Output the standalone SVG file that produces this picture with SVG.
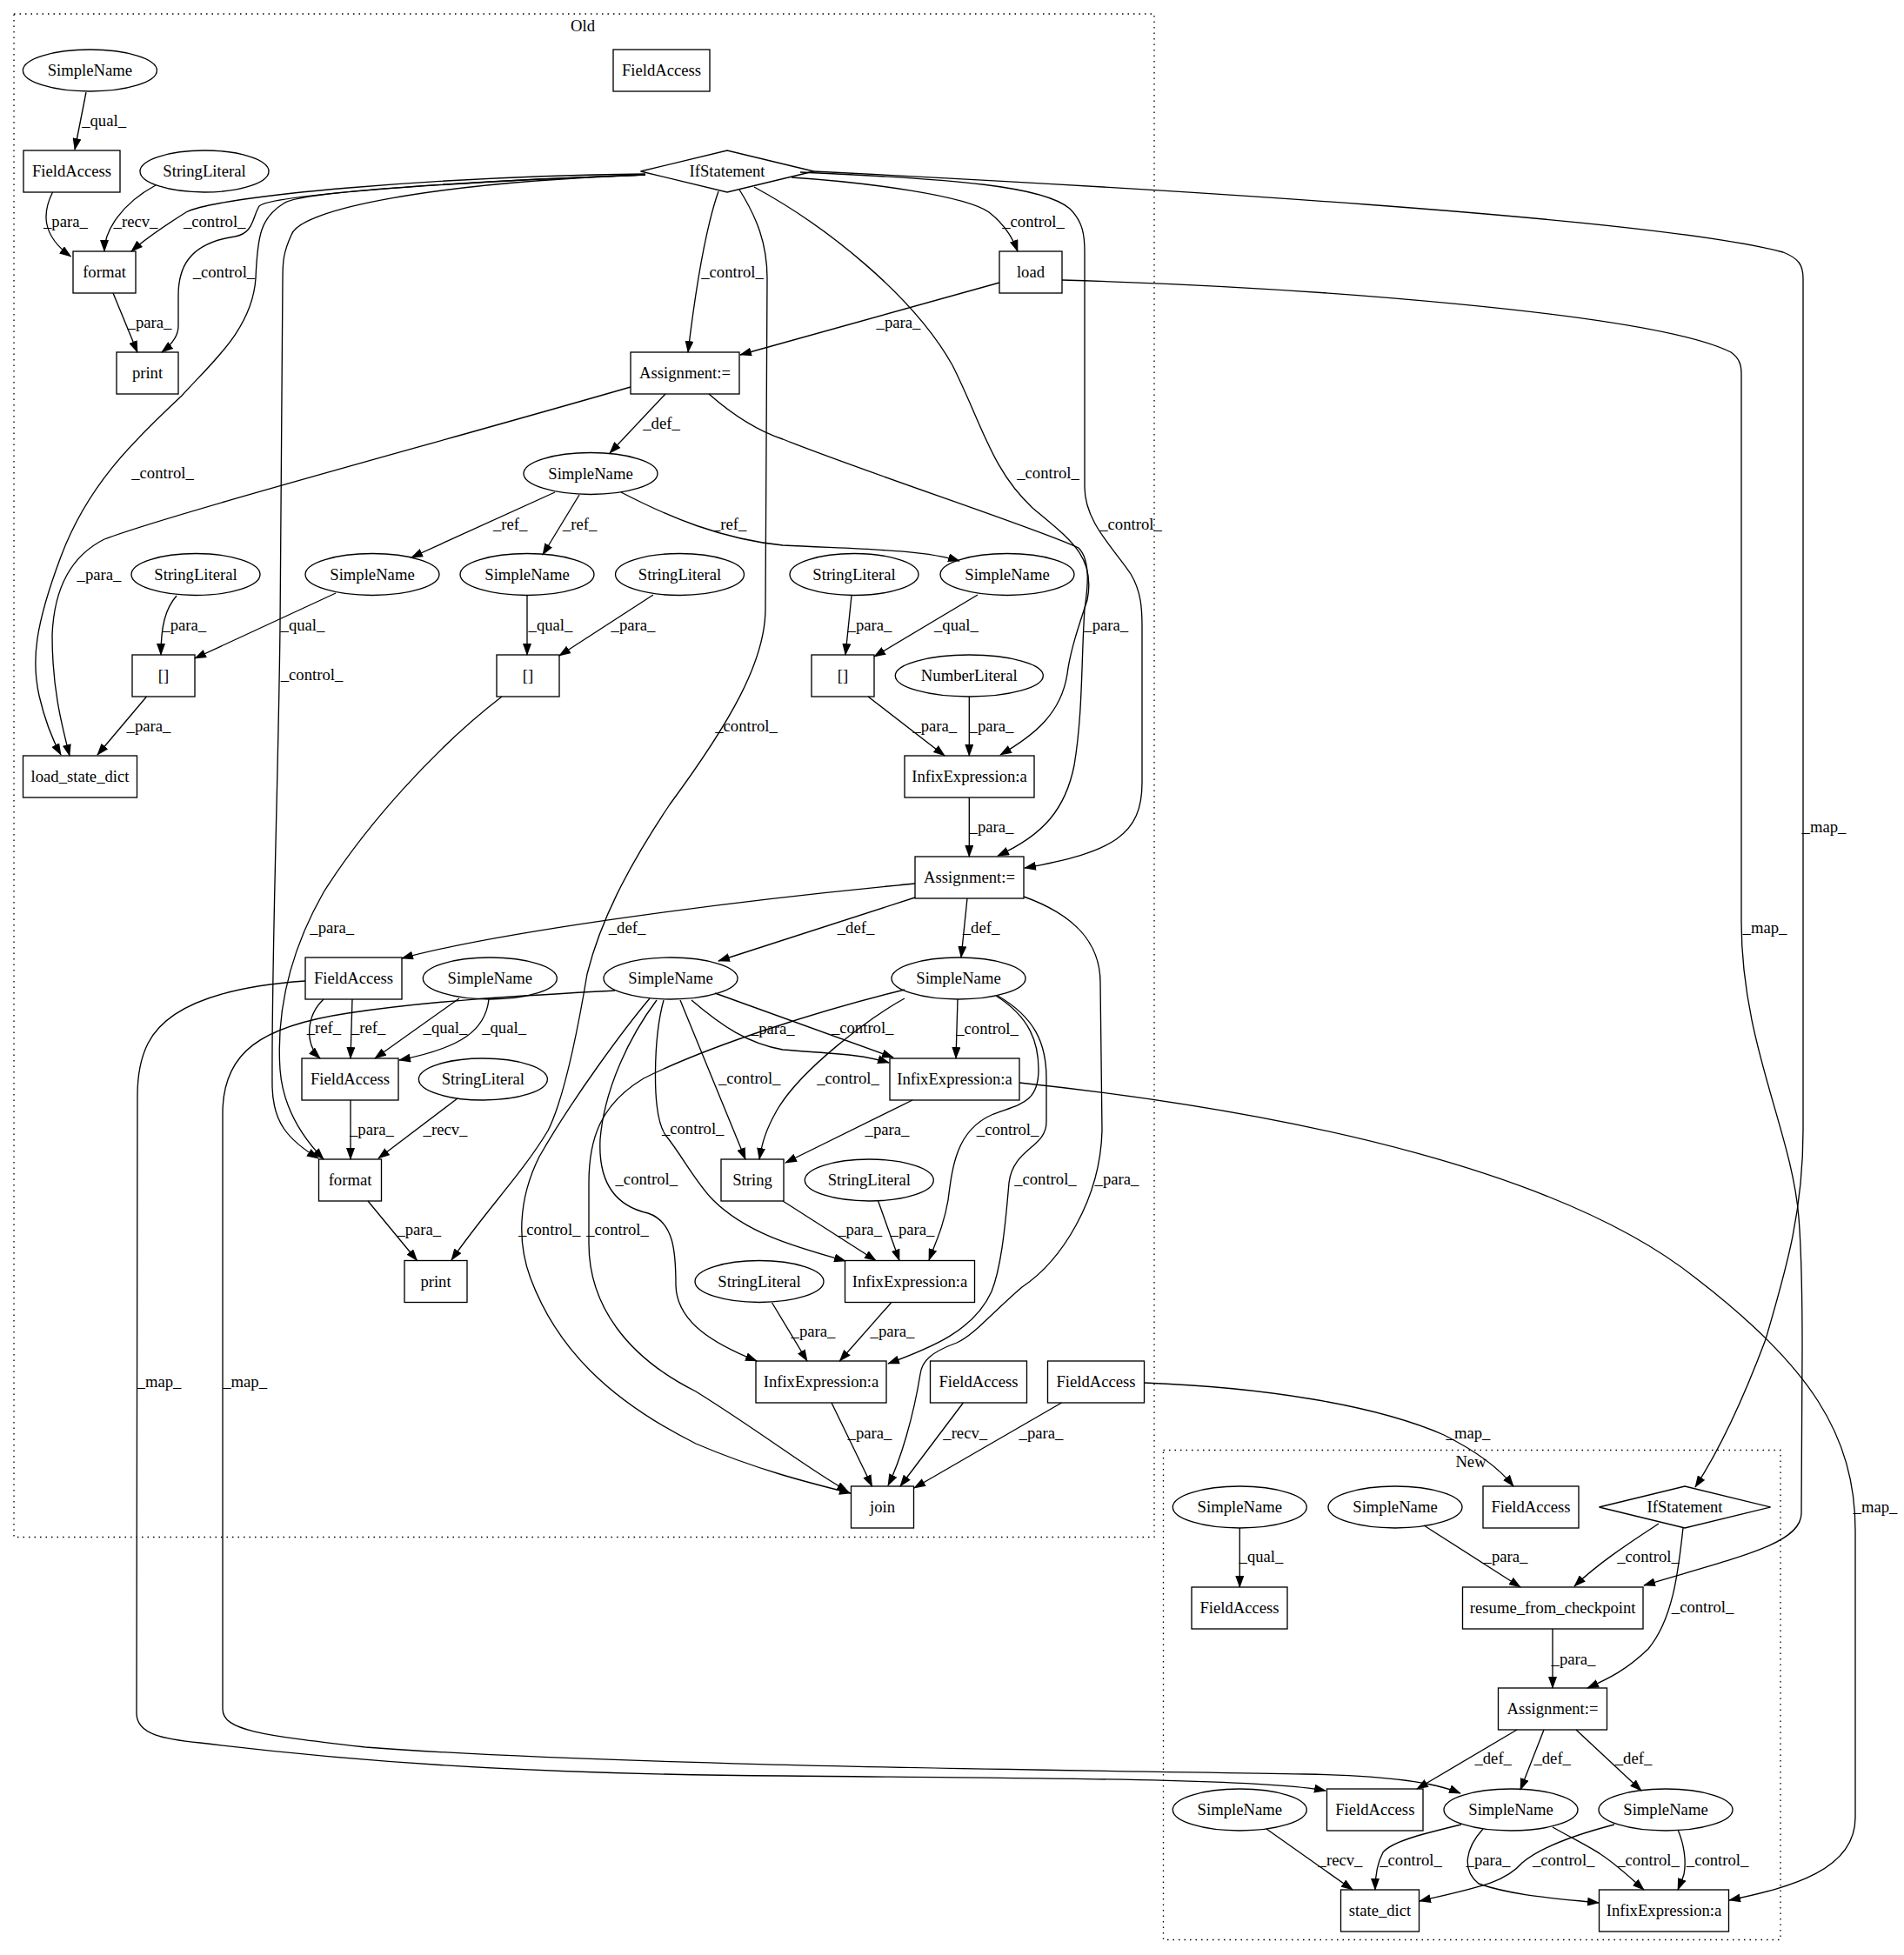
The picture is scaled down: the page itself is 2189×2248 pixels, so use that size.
<svg xmlns="http://www.w3.org/2000/svg" width="2189" height="2248" viewBox="0 0 2189 2248">
<style>
text{font-family:"Liberation Serif","Times New Roman",serif;font-size:18.67px;fill:#000;text-anchor:middle}
.n rect,.n ellipse,.n polygon{fill:none;stroke:#000;stroke-width:1.33}
.e path{fill:none;stroke:#000;stroke-width:1.33;marker-end:url(#a)}
.c{fill:none;stroke:#000;stroke-width:1.33;stroke-dasharray:1.5,5}
</style>
<defs>
<marker id="a" viewBox="0 0 14 10" refX="13" refY="5" markerWidth="14" markerHeight="10" markerUnits="userSpaceOnUse" orient="auto"><path d="M0,0 L14,5 L0,10 z" fill="#000"/></marker>
</defs>
<rect width="2189" height="2248" fill="#fff"/>
<g id="cluster_old"><rect class="c" x="16" y="16" width="1311" height="1751.5"/><text x="670" y="36">Old</text></g>
<g id="cluster_new"><rect class="c" x="1337.5" y="1667.5" width="709.5" height="563"/><text x="1691" y="1687">New</text></g>

<g class="n">
<g id="o_sn0"><ellipse cx="103.4" cy="81" rx="77" ry="24"/><text x="103.4" y="87">SimpleName</text></g>
<g id="o_fa0"><rect x="27" y="173" width="111" height="48"/><text x="82.5" y="203">FieldAccess</text></g>
<g id="o_sl0"><ellipse cx="235" cy="197" rx="74" ry="24"/><text x="235" y="203">StringLiteral</text></g>
<g id="o_fatop"><rect x="705" y="57" width="111" height="48"/><text x="760.5" y="87">FieldAccess</text></g>
<g id="o_if"><polygon points="736.5,197 836,173 935.5,197 836,221"/><text x="836" y="203">IfStatement</text></g>
<g id="o_fmt0"><rect x="84" y="289" width="72" height="48"/><text x="120" y="319">format</text></g>
<g id="o_load"><rect x="1149" y="289" width="72" height="48"/><text x="1185" y="319">load</text></g>
<g id="o_print0"><rect x="134" y="405" width="71" height="48"/><text x="169.5" y="435">print</text></g>
<g id="o_asg0"><rect x="725" y="405" width="125" height="48"/><text x="787.5" y="435">Assignment:=</text></g>
<g id="o_sn1"><ellipse cx="679" cy="544.5" rx="77" ry="24"/><text x="679" y="550.5">SimpleName</text></g>
<g id="o_sl1"><ellipse cx="225" cy="660.5" rx="74" ry="24"/><text x="225" y="666.5">StringLiteral</text></g>
<g id="o_sn2"><ellipse cx="428" cy="660.5" rx="77" ry="24"/><text x="428" y="666.5">SimpleName</text></g>
<g id="o_sn3"><ellipse cx="606" cy="660.5" rx="77" ry="24"/><text x="606" y="666.5">SimpleName</text></g>
<g id="o_sl2"><ellipse cx="781.5" cy="660.5" rx="74" ry="24"/><text x="781.5" y="666.5">StringLiteral</text></g>
<g id="o_sl3"><ellipse cx="982" cy="660.5" rx="74" ry="24"/><text x="982" y="666.5">StringLiteral</text></g>
<g id="o_sn4"><ellipse cx="1158" cy="660.5" rx="77" ry="24"/><text x="1158" y="666.5">SimpleName</text></g>
<g id="o_br1"><rect x="152" y="753" width="72" height="48"/><text x="188" y="783">[]</text></g>
<g id="o_br2"><rect x="571" y="753" width="72" height="48"/><text x="607" y="783">[]</text></g>
<g id="o_br3"><rect x="933" y="753" width="72" height="48"/><text x="969" y="783">[]</text></g>
<g id="o_num"><ellipse cx="1114.3" cy="777" rx="85" ry="24"/><text x="1114.3" y="783">NumberLiteral</text></g>
<g id="o_lsd"><rect x="26.5" y="869" width="131" height="48"/><text x="92" y="899">load_state_dict</text></g>
<g id="o_inf0"><rect x="1040" y="869" width="149" height="48"/><text x="1114.5" y="899">InfixExpression:a</text></g>
<g id="o_asg1"><rect x="1052" y="985" width="125" height="48"/><text x="1114.5" y="1015">Assignment:=</text></g>
<g id="o_fa1"><rect x="351" y="1101" width="111" height="48"/><text x="406.5" y="1131">FieldAccess</text></g>
<g id="o_sn5"><ellipse cx="563.3" cy="1125" rx="77" ry="24"/><text x="563.3" y="1131">SimpleName</text></g>
<g id="o_sn6"><ellipse cx="771" cy="1125" rx="77" ry="24"/><text x="771" y="1131">SimpleName</text></g>
<g id="o_sn7"><ellipse cx="1102" cy="1125" rx="77" ry="24"/><text x="1102" y="1131">SimpleName</text></g>
<g id="o_fa2"><rect x="347" y="1217" width="111" height="48"/><text x="402.5" y="1247">FieldAccess</text></g>
<g id="o_sl4"><ellipse cx="555.4" cy="1241" rx="74" ry="24"/><text x="555.4" y="1247">StringLiteral</text></g>
<g id="o_inf1"><rect x="1023" y="1217" width="149" height="48"/><text x="1097.5" y="1247">InfixExpression:a</text></g>
<g id="o_fmt1"><rect x="366.5" y="1333" width="72" height="48"/><text x="402.5" y="1363">format</text></g>
<g id="o_string"><rect x="829" y="1333" width="72" height="48"/><text x="865" y="1363">String</text></g>
<g id="o_sl5"><ellipse cx="999.3" cy="1357" rx="74" ry="24"/><text x="999.3" y="1363">StringLiteral</text></g>
<g id="o_print1"><rect x="465" y="1449.5" width="72" height="48"/><text x="501" y="1479.5">print</text></g>
<g id="o_inf2"><rect x="971.5" y="1449.5" width="149" height="48"/><text x="1046" y="1479.5">InfixExpression:a</text></g>
<g id="o_sl6"><ellipse cx="873" cy="1473.5" rx="74" ry="24"/><text x="873" y="1479.5">StringLiteral</text></g>
<g id="o_inf3"><rect x="869" y="1565" width="150" height="48"/><text x="944" y="1595">InfixExpression:a</text></g>
<g id="o_fa3"><rect x="1069.5" y="1565" width="111" height="48"/><text x="1125" y="1595">FieldAccess</text></g>
<g id="o_fa4"><rect x="1204.5" y="1565" width="111" height="48"/><text x="1260" y="1595">FieldAccess</text></g>
<g id="o_join"><rect x="978.5" y="1709" width="72" height="48"/><text x="1014.5" y="1739">join</text></g>

<g id="n_sn0"><ellipse cx="1425.3" cy="1733" rx="77" ry="24"/><text x="1425.3" y="1739">SimpleName</text></g>
<g id="n_sn1"><ellipse cx="1604" cy="1733" rx="77" ry="24"/><text x="1604" y="1739">SimpleName</text></g>
<g id="n_fa0"><rect x="1705" y="1709" width="110" height="48"/><text x="1760" y="1739">FieldAccess</text></g>
<g id="n_if"><polygon points="1838.5,1733 1937,1709 2035.5,1733 1937,1757"/><text x="1937" y="1739">IfStatement</text></g>
<g id="n_fa1"><rect x="1370" y="1825" width="110" height="48"/><text x="1425" y="1855">FieldAccess</text></g>
<g id="n_rfc"><rect x="1681.5" y="1825" width="207.5" height="48"/><text x="1785.2" y="1855">resume_from_checkpoint</text></g>
<g id="n_asg"><rect x="1722.5" y="1941" width="125" height="48"/><text x="1785" y="1971">Assignment:=</text></g>
<g id="n_sn2"><ellipse cx="1425.3" cy="2081" rx="77" ry="24"/><text x="1425.3" y="2087">SimpleName</text></g>
<g id="n_fa2"><rect x="1525.5" y="2057" width="110.5" height="48"/><text x="1580.8" y="2087">FieldAccess</text></g>
<g id="n_sn3"><ellipse cx="1737" cy="2081" rx="77" ry="24"/><text x="1737" y="2087">SimpleName</text></g>
<g id="n_sn4"><ellipse cx="1915" cy="2081" rx="77" ry="24"/><text x="1915" y="2087">SimpleName</text></g>
<g id="n_sd"><rect x="1541.5" y="2173" width="90" height="48"/><text x="1586.5" y="2203">state_dict</text></g>
<g id="n_inf"><rect x="1838.5" y="2173" width="149" height="48"/><text x="1913" y="2203">InfixExpression:a</text></g>
</g>

<g id="connectors" class="e">
<path d="M99,106 L86,172"/><text x="119.6" y="144.7">_qual_</text>
<path d="M60.5,221 C49,244 47,270 81.5,295"/><text x="75.4" y="261">_para_</text>
<path d="M179,213 C140,234 120,265 120,289"/><text x="156" y="261">_recv_</text>
<path d="M742,200 C500,203 250,225 214,244 C195,256 170,272 151,289"/><text x="246.7" y="261">_control_</text>
<path d="M742,201 C500,210 310,225 298,237 C290,250 292,268 270,272 C215,280 205,310 205,340 L205,375 C205,388 195,398 186,405"/><text x="257.4" y="319.3">_control_</text>
<path d="M130,337 L158,405"/><text x="172" y="376.7">_para_</text>
<path d="M742,201 C500,210 340,222 326,234 C300,250 296,270 294,320 C290,380 240,420 209,455 C150,510 100,560 70,640 C40,720 36,760 45,800 C52,830 60,850 70,868"/><text x="187" y="550">_control_</text>
<path d="M742,201 C500,210 345,240 335,270 C326,290 325,300 325,320 L322,720 C320,900 312,1100 313,1250 C314,1290 330,1310 366,1332"/><text x="358.5" y="782">_control_</text>
<path d="M826,220 C812,260 800,330 791,405"/><text x="842" y="319">_control_</text>
<path d="M850,218 C870,250 882,280 882,320 L880,700 C880,760 840,830 770,925 C720,1000 690,1060 675,1120 C665,1180 650,1260 630,1300 C600,1350 560,1390 519,1449"/><text x="858" y="841">_control_</text>
<path d="M910,204 C1000,210 1110,225 1137,244 C1155,258 1165,275 1170,289"/><text x="1188" y="261">_control_</text>
<path d="M1149,325 L851,408"/><text x="1033" y="377">_para_</text>
<path d="M867,215 C950,260 1050,340 1095,420 C1130,490 1140,540 1187,584 C1230,620 1260,640 1250,690 C1240,720 1230,750 1227,775 C1220,820 1190,845 1150,868"/><text x="1205" y="550">_control_</text>
<path d="M920,198 C1100,206 1200,214 1230,240 C1245,255 1247,270 1247,290 L1247,560 C1247,600 1280,630 1300,660 C1312,680 1313,700 1313,720 L1313,900 C1313,960 1280,980 1178,998"/><text x="1300" y="609">_control_</text>
<path d="M935,197 C1300,215 1900,250 2050,290 C2068,297 2073,305 2073,320 L2073,1300 C2073,1400 2050,1470 2030,1540 C2000,1620 1975,1670 1949,1710"/><text x="2097" y="956.6">_map_</text>
<path d="M1221,322 C1500,330 1900,360 1990,405 C2000,412 2002,420 2002,430 L2002,1060 C2002,1200 2060,1300 2068,1400 C2072,1450 2072,1500 2072,1550 L2071,1740 C2071,1775 2000,1790 1890,1823"/><text x="2029" y="1073">_map_</text>
<path d="M765,453 L701,521"/><text x="760.5" y="493">_def_</text>
<path d="M725,445 C500,510 200,590 120,620 C80,640 62,680 60,730 C60,790 70,830 80,869"/><text x="114" y="666.5">_para_</text>
<path d="M815,453 C840,475 870,495 900,505 C1000,545 1200,610 1240,630 C1255,645 1250,680 1247,700 C1243,760 1245,820 1235,880 C1225,930 1200,960 1147,984"/><text x="1271.7" y="725">_para_</text>
<path d="M638,566 L473,641"/><text x="586.6" y="608.7">_ref_</text>
<path d="M666,569 L624,638"/><text x="666.7" y="608.7">_ref_</text>
<path d="M714,566 C770,595 830,620 900,627 C1000,632 1060,632 1103,645"/><text x="838.7" y="608.7">_ref_</text>
<path d="M203,685 C190,700 185,720 185,753"/><text x="211.8" y="725">_para_</text>
<path d="M386,682 L224,757"/><text x="348" y="725">_qual_</text>
<path d="M606,685 L606,753"/><text x="633" y="725">_qual_</text>
<path d="M751,684 L643,754"/><text x="728" y="725">_para_</text>
<path d="M979,685 L972,753"/><text x="1000" y="725">_para_</text>
<path d="M1124,684 L1005,755"/><text x="1099.4" y="725">_qual_</text>
<path d="M168.5,801 L112,868"/><text x="171" y="840.8">_para_</text>
<path d="M577,801 C500,860 420,950 372,1026 C330,1100 318,1170 322,1230 C325,1270 345,1305 372,1333"/><text x="381.7" y="1073">_para_</text>
<path d="M998,801 L1086,869"/><text x="1074.8" y="840.8">_para_</text>
<path d="M1114.3,801 L1114.3,869"/><text x="1140" y="840.8">_para_</text>
<path d="M1114.3,917 L1114.3,985"/><text x="1140" y="957">_para_</text>
<path d="M1052,1016 C800,1040 560,1075 462,1102"/><text x="721" y="1073">_def_</text>
<path d="M1052,1032 L826,1105"/><text x="984" y="1073">_def_</text>
<path d="M1112,1033 L1105,1101"/><text x="1128" y="1073">_def_</text>
<path d="M1177,1031 C1230,1050 1265,1080 1265,1130 L1267,1300 C1265,1380 1220,1450 1175,1480 C1140,1510 1120,1535 1100,1544 C1070,1555 1060,1565 1058,1580 C1050,1630 1035,1680 1021,1708"/><text x="1284" y="1362">_para_</text>
<path d="M372,1149 C352,1168 350,1200 368,1217"/><text x="372.4" y="1187.7">_ref_</text>
<path d="M405,1149 L403,1217"/><text x="423.6" y="1187.7">_ref_</text>
<path d="M528,1148 L431,1217"/><text x="512" y="1187.7">_qual_</text>
<path d="M562,1149 C558,1185 530,1205 459,1219"/><text x="579.6" y="1187.7">_qual_</text>
<path d="M403,1265 L403,1333"/><text x="427.4" y="1305">_para_</text>
<path d="M526,1263 L435,1332"/><text x="512" y="1305">_recv_</text>
<path d="M423,1381 L479.5,1449.5"/><text x="481.8" y="1420">_para_</text>
<path d="M351,1128 C250,1135 190,1160 170,1200 C160,1220 158,1240 158,1260 L157,1970 C157,1995 190,2000 230,2004 C400,2025 600,2040 900,2042 C1200,2045 1450,2045 1524,2059"/><text x="181.6" y="1594.7" style="text-anchor:start" dx="-24">_map_</text>
<path d="M707,1139 C600,1145 500,1150 400,1165 C300,1180 256,1210 256,1280 L256,1965 C256,1990 300,1995 420,2009 C700,2030 1200,2035 1500,2040 C1600,2042 1650,2050 1679,2062"/><text x="281.6" y="1594.7">_map_</text>
<path d="M747,1148 C720,1180 660,1260 620,1330 C595,1380 595,1430 610,1470 C640,1550 700,1610 800,1660 C870,1690 930,1705 978,1717"/><text x="631.7" y="1419.5">_control_</text>
<path d="M755,1150 C725,1190 695,1250 690,1310 C688,1350 700,1385 745,1395 C775,1405 777,1440 777,1478 C778,1520 820,1545 870,1565"/><text x="743.3" y="1361.5">_control_</text>
<path d="M763,1150 C752,1190 748,1280 765,1305 C785,1330 800,1360 820,1380 C860,1420 920,1435 972,1450"/><text x="796.7" y="1303.8">_control_</text>
<path d="M782,1150 L857,1333"/><text x="861.7" y="1246">_control_</text>
<path d="M795,1150 C830,1180 860,1200 900,1207 C960,1212 990,1212 1022,1222"/><text x="888.3" y="1189">_para_</text>
<path d="M822,1142 L1027,1216"/><text x="991.7" y="1188">_control_</text>
<path d="M1040,1138 C950,1160 820,1200 740,1240 C690,1270 677,1310 677,1360 L677,1430 C677,1500 720,1560 800,1600 C880,1650 930,1690 975,1715"/><text x="710" y="1419.5">_control_</text>
<path d="M1040,1148 C1000,1170 920,1230 893,1277 C880,1300 876,1315 873,1333"/><text x="975" y="1246">_control_</text>
<path d="M1101,1149 L1099,1217"/><text x="1135" y="1188.7">_control_</text>
<path d="M1145,1145 C1185,1170 1194,1200 1194,1230 C1194,1270 1170,1270 1140,1282 C1100,1300 1095,1340 1090,1380 C1085,1410 1075,1430 1068,1449"/><text x="1158.6" y="1305">_control_</text>
<path d="M1147,1145 C1190,1170 1203,1200 1203,1240 L1203,1290 C1203,1320 1165,1320 1160,1360 C1155,1420 1150,1460 1140,1485 C1120,1530 1070,1550 1021,1568"/><text x="1201.9" y="1362">_control_</text>
<path d="M1049,1265 L903,1337"/><text x="1020" y="1305">_para_</text>
<path d="M1172,1245 C1500,1280 1800,1350 1950,1470 C2080,1570 2133,1650 2133,1760 L2133,2090 C2133,2150 2060,2170 1988,2185"/><text x="2156" y="1738.7">_map_</text>
<path d="M900,1381 L1007,1449.5"/><text x="988.6" y="1420">_para_</text>
<path d="M1009.6,1381 L1034,1449.5"/><text x="1049" y="1420">_para_</text>
<path d="M1024.5,1498 L965.4,1565"/><text x="1026" y="1537">_para_</text>
<path d="M887.6,1498 L928,1565"/><text x="935" y="1537">_para_</text>
<path d="M956,1613 L1002.6,1709"/><text x="1000" y="1653.5">_para_</text>
<path d="M1107.4,1613 L1035,1709"/><text x="1109.7" y="1653.5">_recv_</text>
<path d="M1220.5,1613 L1051,1711"/><text x="1197" y="1653.5">_para_</text>
<path d="M1315,1590 C1450,1595 1580,1615 1660,1650 C1700,1670 1725,1690 1740,1709"/><text x="1688" y="1653.5">_map_</text>
<path d="M1425.3,1757 L1425.3,1825"/><text x="1450" y="1796">_qual_</text>
<path d="M1637,1754 L1748,1825"/><text x="1731" y="1796">_para_</text>
<path d="M1907,1752 C1880,1770 1840,1795 1810,1824"/><text x="1895" y="1796">_control_</text>
<path d="M1935,1757 C1930,1800 1925,1860 1895,1896 C1870,1920 1850,1930 1825,1941"/><text x="1957.6" y="1854">_control_</text>
<path d="M1785,1873 L1785,1941"/><text x="1809" y="1913.5">_para_</text>
<path d="M1744,1989 L1629,2057"/><text x="1716.7" y="2028">_def_</text>
<path d="M1775,1989 L1748,2058"/><text x="1784.7" y="2028">_def_</text>
<path d="M1812,1989 L1887,2059"/><text x="1878" y="2028">_def_</text>
<path d="M1456,2103 L1555,2173"/><text x="1541" y="2144.7">_recv_</text>
<path d="M1680,2098 C1630,2110 1600,2118 1590,2130 C1582,2145 1581,2160 1581,2173"/><text x="1622" y="2144.7">_control_</text>
<path d="M1705,2103 C1685,2125 1680,2150 1700,2166 C1740,2180 1790,2183 1838,2188"/><text x="1711" y="2144.7">_para_</text>
<path d="M1856,2098 C1810,2110 1770,2125 1750,2142 C1730,2165 1700,2170 1632,2186"/><text x="1797.7" y="2144.7">_control_</text>
<path d="M1785,2101 C1810,2115 1830,2125 1840,2132 C1860,2145 1875,2160 1890,2173"/><text x="1895" y="2144.7">_control_</text>
<path d="M1929,2104 C1936,2120 1939,2140 1936,2155 C1934,2162 1931,2168 1929,2173"/><text x="1974.6" y="2144.7">_control_</text>
</g>
</svg>
